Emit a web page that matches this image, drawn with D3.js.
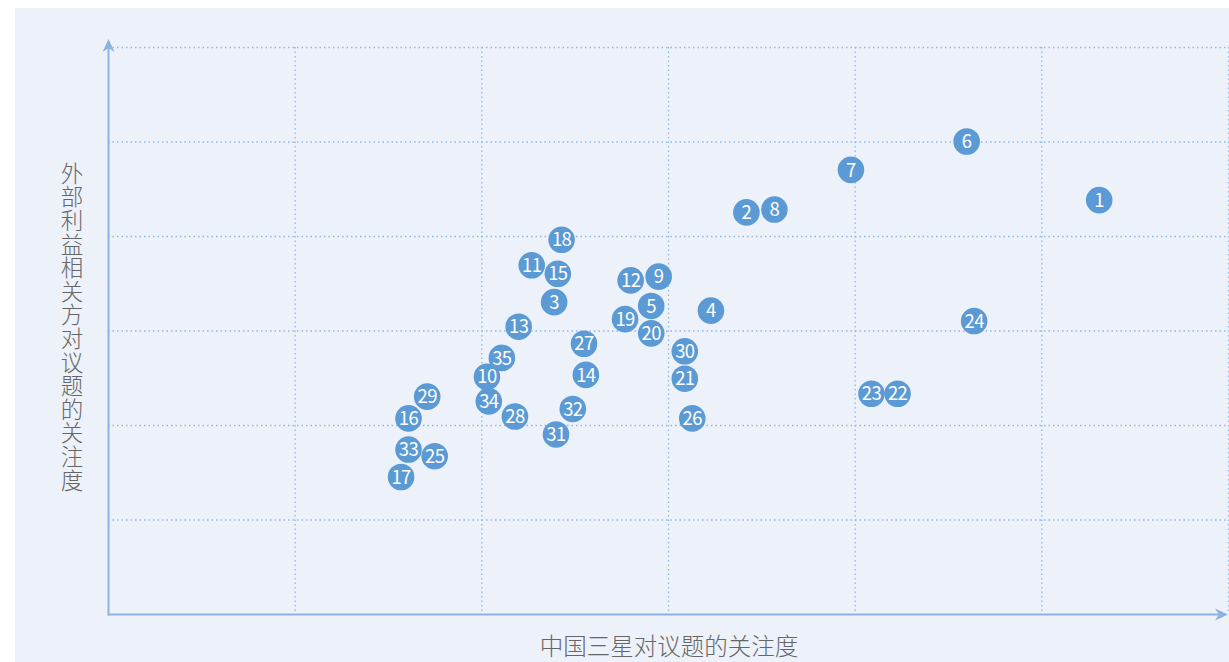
<!DOCTYPE html>
<html>
<head>
<meta charset="utf-8">
<script src="https://cdn.jsdelivr.net/npm/d3@7"></script>
<style>
  html, body { margin: 0; padding: 0; background: #ffffff; }
  svg { display: block; font-family: "Noto Sans CJK SC", "Noto Sans", sans-serif; }
</style>
</head>
<body>
<svg id="chart" width="1229" height="662"></svg>
<script>
// Issue IDs with attention scores: x = Samsung China, y = external stakeholders
const ids = [1,2,3,4,5,6,7,8,9,10,11,12,13,14,15,16,17,18,19,20,21,22,23,24,25,26,27,28,29,30,31,32,33,34,35];
const companyScores = [5.31,3.42,2.39,3.23,2.91,4.60,3.98,3.57,2.95,2.03,2.27,2.80,2.20,2.56,2.41,1.61,1.57,2.43,2.77,2.91,3.09,4.23,4.09,4.64,1.75,3.13,2.55,2.18,1.71,3.09,2.40,2.49,1.61,2.04,2.11];
const stakeholderScores = [4.38,4.25,3.30,3.21,3.26,5.00,4.70,4.28,3.57,2.51,3.69,3.53,3.04,2.53,3.60,2.07,1.45,3.96,3.12,2.97,2.49,2.33,2.33,3.10,1.67,2.07,2.86,2.09,2.30,2.78,1.90,2.17,1.74,2.25,2.71];
const gridTicks = [1,2,3,4,5,6];
const xTitle = "中国三星对议题的关注度";
const yTitle = "外部利益相关方对议题的关注度";

const svg = d3.select("#chart");
const W = 1229, H = 662;

// panel background
svg.append("rect").attr("x", 15).attr("y", 8).attr("width", W - 15).attr("height", H - 8).attr("fill", "#edf2fa");

const x = d3.scaleLinear().domain([0, 6]).range([108, 1228]);
const y = d3.scaleLinear().domain([0, 6]).range([614, 47]);

const gridColor = "#8fb6e6";
// vertical grid
svg.append("g").selectAll("line").data(gridTicks).join("line")
  .attr("x1", d => x(d) + 0.5).attr("x2", d => x(d) + 0.5)
  .attr("y1", y(6)).attr("y2", y(0))
  .attr("stroke", gridColor).attr("stroke-width", 1.3).attr("stroke-dasharray", "1.5,3");
// horizontal grid
svg.append("g").selectAll("line").data(gridTicks).join("line")
  .attr("x1", x(0)).attr("x2", x(6))
  .attr("y1", d => y(d) + 0.5).attr("y2", d => y(d) + 0.5)
  .attr("stroke", gridColor).attr("stroke-width", 1.3).attr("stroke-dasharray", "1.5,3");

// axes with arrowheads
const axisColor = "#8db2e0";
svg.append("line").attr("x1", x(0)).attr("x2", x(6) - 6).attr("y1", y(0) + 0.5).attr("y2", y(0) + 0.5)
  .attr("stroke", axisColor).attr("stroke-width", 2);
svg.append("line").attr("x1", x(0) + 0.5).attr("x2", x(0) + 0.5).attr("y1", y(0) + 1.5).attr("y2", y(6) - 2)
  .attr("stroke", axisColor).attr("stroke-width", 2);
const ax = x(6), ay = y(0) + 0.5;
svg.append("path").attr("d", `M${ax},${ay} L${ax - 13},${ay - 6} L${ax - 9},${ay} L${ax - 13},${ay + 6} Z`).attr("fill", axisColor);
const bx = x(0) + 0.5, by = y(6) - 8;
svg.append("path").attr("d", `M${bx},${by} L${bx - 6},${by + 13} L${bx},${by + 9} L${bx + 6},${by + 13} Z`).attr("fill", axisColor);

// axis titles
svg.append("text").attr("x", 669).attr("y", 655).attr("text-anchor", "middle")
  .attr("fill", "#666666").attr("font-size", 23.5).attr("font-weight", 300).text(xTitle);
// vertical title, upright characters stacked top to bottom
svg.append("text")
  .attr("transform", "translate(72,162)")
  .style("writing-mode", "vertical-rl").style("text-orientation", "upright")
  .attr("fill", "#666666").attr("font-size", 22.5).attr("font-weight", 300)
  .attr("letter-spacing", 1.1).text(yTitle);

// issue points
const pts = ids.map((id, i) => ({ id, cx: companyScores[i], cy: stakeholderScores[i] }));
const g = svg.append("g").selectAll("g").data(pts).join("g")
  .attr("transform", d => `translate(${x(d.cx)},${y(d.cy)})`);
g.append("circle").attr("r", 13.3).attr("fill", "#5b9ad4");
g.append("text").attr("text-anchor", "middle").attr("dy", "0.36em")
  .attr("fill", "#ffffff").attr("font-size", 18.5)
  .attr("letter-spacing", -0.6).text(d => d.id);
</script>
</body>
</html>
